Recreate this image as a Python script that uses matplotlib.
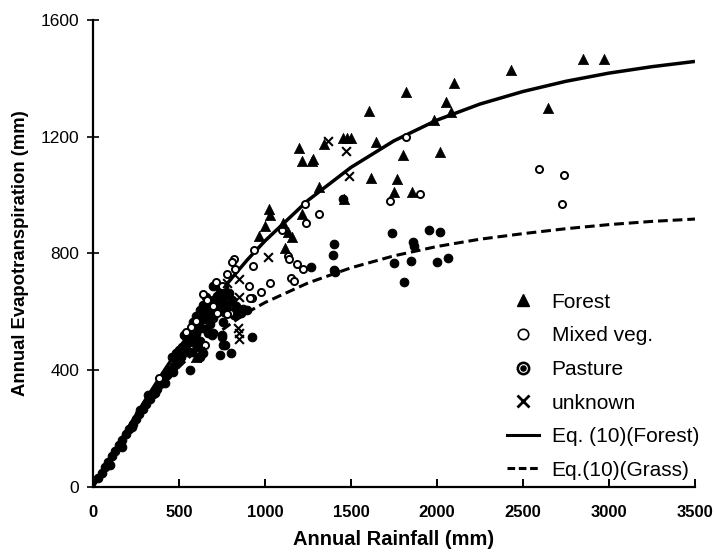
import matplotlib
matplotlib.use("Agg")
import matplotlib.pyplot as plt
from matplotlib.lines import Line2D
from matplotlib.legend_handler import HandlerTuple

plt.rcParams['font.family'] = ['Liberation Sans', 'DejaVu Sans']

# --- Forest (triangles) ---
forest_x = [2850, 2970, 2430, 2099, 1820, 1605, 2052, 2081, 1983, 2645,
            1455, 1478, 1500, 1645, 1802, 2017, 1616, 1767, 1750, 1855,
            1460, 1198, 1215, 1273, 1279, 1343, 1314, 1023, 1029, 1000,
            965, 1105, 1134, 1157, 1116, 1215, 600]
forest_y = [1466, 1466, 1429, 1384, 1353, 1288, 1319, 1285, 1257, 1298,
            1196, 1196, 1196, 1182, 1137, 1147, 1059, 1055, 1011, 1011,
            985, 1161, 1117, 1117, 1124, 1175, 1028, 952, 932, 894,
            860, 906, 874, 857, 819, 935, 444]

# --- Mixed vegetation (open circles) ---
mixed_x = [2593, 2738, 2727, 1820, 1901, 1727, 1233, 1314, 1238, 1099,
           936, 930, 1134, 1140, 1186, 1221, 1151, 1169, 1029, 977,
           924, 820, 808, 779, 907, 913, 797, 721, 570, 826,
           779, 651, 384, 750, 715, 663, 640, 700, 600, 540]
mixed_y = [1089, 1069, 970, 1199, 1004, 980, 970, 935, 904, 880,
           812, 757, 791, 781, 764, 747, 716, 706, 699, 668,
           648, 781, 771, 730, 689, 648, 596, 596, 548, 747,
           593, 486, 373, 689, 702, 640, 660, 620, 570, 530]

# --- Pasture (filled circles) ---
pasture_x = [1738, 1953, 2017, 1860, 1866, 1750, 1849, 2000, 2064, 1808,
             1401, 1395, 1401, 1405, 1267, 1453, 924, 802, 738, 564,
             895, 860, 692, 750, 756, 640, 576, 517, 459, 465,
             419, 837, 756, 750, 767, 669, 698, 605, 547, 622,
             360, 320, 273, 227, 169, 99,
             30, 50, 70, 90, 110, 130, 150, 170, 190, 210,
             230, 250, 270, 290, 310, 330, 350, 370, 390, 410,
             430, 450, 470, 490, 510,
             560, 580, 600, 620, 640, 660, 680, 700, 720, 740,
             760, 600, 630, 650, 670, 690, 710, 730, 750, 770,
             790, 810, 830, 700, 720, 740, 760, 780, 800, 820,
             850, 870, 680, 660, 620, 580, 540, 520, 500, 480,
             550, 700, 660, 640, 620, 600, 580, 530, 610, 680]
pasture_y = [870, 880, 873, 839, 826, 767, 774, 771, 785, 702,
             832, 795, 743, 738, 754, 987, 514, 459, 452, 401,
             606, 596, 521, 521, 486, 459, 462, 459, 445, 394,
             356, 600, 565, 514, 486, 527, 527, 480, 462, 445,
             322, 315, 264, 206, 137, 75,
             30, 49, 68, 87, 106, 125, 143, 161, 180, 198,
             216, 233, 251, 268, 286, 302, 319, 336, 352, 368,
             384, 400, 415, 432, 446,
             510, 530, 550, 570, 590, 605, 620, 640, 655, 670,
             685, 525, 545, 575, 585, 605, 615, 630, 645, 655,
             665, 640, 620, 580, 600, 615, 598, 625, 598, 588,
             598, 610, 560, 540, 500, 498, 488, 478, 468, 458,
             505, 690, 650, 625, 605, 585, 565, 520, 540, 600]

# --- Unknown (crosses) ---
unknown_x = [1017, 849, 849, 843, 849, 849, 1366, 1471, 1488, 620, 780]
unknown_y = [788, 713, 651, 545, 528, 507, 1185, 1151, 1065, 465, 700]

# --- Eq. (10) curves ---
curve_p = [0, 50, 100, 200, 300, 400, 500, 600, 700, 800, 900, 1000,
           1250, 1500, 1750, 2000, 2250, 2500, 2750, 3000, 3250, 3500]
forest_et = [0, 50, 100, 198, 294, 386, 475, 558, 637, 711, 780, 843,
             982, 1095, 1186, 1257, 1312, 1355, 1390, 1418, 1440, 1458]
grass_et = [0, 50, 98, 190, 274, 347, 411, 467, 516, 559, 599, 632,
            699, 751, 792, 824, 849, 868, 885, 899, 910, 918]

fig = plt.figure(figsize=(7.15, 5.55), dpi=100)
ax = fig.add_axes([0.130, 0.1225, 0.842, 0.8415])

ax.plot(curve_p, forest_et, color='black', lw=2.5, solid_capstyle='butt', zorder=3)
ax.plot(curve_p, grass_et, color='black', lw=2.2, linestyle=(0, (3.2, 1.6)), zorder=3)

ax.scatter(pasture_x, pasture_y, s=38, marker='o', facecolor='black',
           edgecolor='black', linewidths=0.8, zorder=4)
ax.scatter(mixed_x, mixed_y, s=26, marker='o', facecolor='white',
           edgecolor='black', linewidths=1.4, zorder=5)
ax.scatter(forest_x, forest_y, s=55, marker='^', facecolor='black',
           edgecolor='black', linewidths=0.5, zorder=5)
ax.scatter(unknown_x, unknown_y, s=40, marker='x', color='black',
           linewidths=1.5, zorder=5)

ax.set_xlim(0, 3500)
ax.set_ylim(0, 1600)
ax.set_xticks([0, 500, 1000, 1500, 2000, 2500, 3000, 3500])
ax.set_yticks([0, 400, 800, 1200, 1600])
for s in ['top', 'right']:
    ax.spines[s].set_visible(False)
for s in ['left', 'bottom']:
    ax.spines[s].set_linewidth(1.6)
ax.tick_params(axis='x', direction='in', length=6, width=1.4, labelsize=12, pad=13)
ax.tick_params(axis='y', direction='inout', length=8, width=1.2, labelsize=12.5, pad=6)
for lab in ax.get_xticklabels():
    lab.set_fontweight('bold')

ax.set_xlabel('Annual Rainfall (mm)', fontsize=14.5, fontweight='bold', labelpad=7)
ax.set_ylabel('Annual Evapotranspiration (mm)', fontsize=13.3, fontweight='bold', labelpad=8)

pasture_handle = (
    Line2D([], [], marker='o', markerfacecolor='black', markeredgecolor='black',
           linestyle='none', markersize=9),
    Line2D([], [], marker='o', markerfacecolor='black', markeredgecolor='white',
           linestyle='none', markersize=5.5, markeredgewidth=0.8),
)
handles = [
    Line2D([], [], marker='^', color='black', linestyle='none', markersize=9),
    Line2D([], [], marker='o', markerfacecolor='white', markeredgecolor='black',
           linestyle='none', markersize=7.5, markeredgewidth=1.2),
    pasture_handle,
    Line2D([], [], marker='x', color='black', linestyle='none', markersize=8.5,
           markeredgewidth=2.0),
    Line2D([], [], color='black', lw=2.2),
    Line2D([], [], color='black', lw=2.2, linestyle=(0, (2.5, 1.2))),
]
labels = ['Forest', 'Mixed veg.', 'Pasture', 'unknown',
          'Eq. (10)(Forest)', 'Eq.(10)(Grass)']
ax.legend(handles, labels, loc='lower left', bbox_to_anchor=(0.66, -0.02),
          frameon=False, fontsize=15, handlelength=1.55, labelspacing=0.7,
          handletextpad=0.6, borderpad=0.3,
          handler_map={tuple: HandlerTuple(ndivide=1, pad=0)})

fig.savefig('out.png', dpi=100)
